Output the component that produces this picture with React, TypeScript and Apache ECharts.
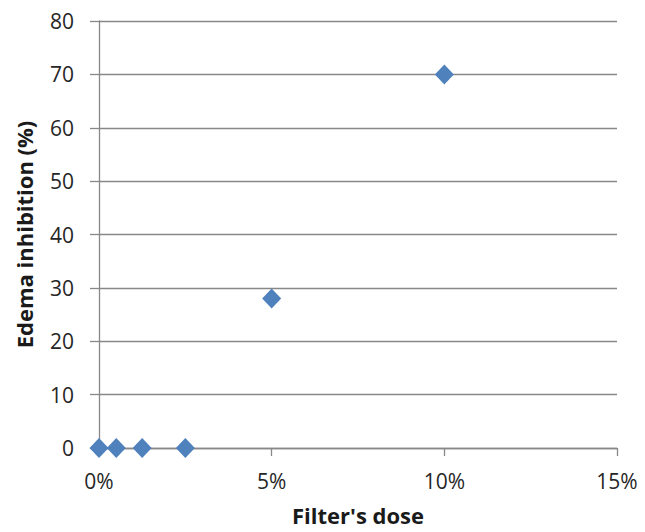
import React, { useEffect, useRef } from "react";
import * as echarts from "echarts";

const doses = [0, 0.5, 1.25, 2.5, 5, 10];
const inhibition = [0, 0, 0, 0, 28, 70];
const xTitle = "Filter's dose";
const yTitle = "Edema inhibition (%)";

export default function App() {
  const ref = useRef<HTMLDivElement>(null);
  useEffect(() => {
    if (!ref.current) return;
    const chart = echarts.init(ref.current, undefined, { renderer: "svg" });
    const font = "'Open Sans', sans-serif";
    const gray = "#888888";
    chart.setOption({
      animation: false,
      textStyle: { fontFamily: font },
      grid: { left: 99, right: 28, top: 21, bottom: 84, containLabel: false, outerBoundsMode: "none" },
      xAxis: {
        type: "value",
        min: 0,
        max: 15,
        interval: 5,
        name: xTitle,
        nameLocation: "middle",
        nameGap: 56,
        nameTextStyle: { fontSize: 22, lineHeight: 22, fontWeight: "bold", color: "#1a1a1a", fontFamily: font },
        axisLine: { show: true, onZero: false, lineStyle: { color: gray, width: 1.3 } },
        axisTick: { show: true, inside: false, length: 8, lineStyle: { color: gray, width: 1.3 } },
        splitLine: { show: false },
        axisLabel: { formatter: "{value}%", fontSize: 21, color: "#262626", margin: 22, fontFamily: font },
      },
      yAxis: {
        type: "value",
        min: 0,
        max: 80,
        interval: 10,
        name: yTitle,
        nameLocation: "middle",
        nameGap: 64,
        nameRotate: 90,
        nameTextStyle: { fontSize: 22, lineHeight: 22, fontWeight: "bold", color: "#1a1a1a", fontFamily: font },
        axisLine: { show: true, lineStyle: { color: gray, width: 1.3 } },
        axisTick: { show: true, inside: false, length: 9, lineStyle: { color: gray, width: 1.3 } },
        splitLine: { show: true, lineStyle: { color: gray, width: 1.3 } },
        axisLabel: { fontSize: 21, color: "#262626", margin: 25, fontFamily: font },
      },
      series: [
        {
          type: "scatter",
          symbol: "diamond",
          symbolSize: [19, 20],
          itemStyle: { color: "#4F81BD", opacity: 1 },
          data: doses.map((d, i) => [d, inhibition[i]]),
        },
      ],
    });
    return () => chart.dispose();
  }, []);
  return (
    <div
      ref={ref}
      style={{ position: "fixed", left: 0, top: 0, width: 645, height: 532, background: "#fff" }}
    />
  );
}
